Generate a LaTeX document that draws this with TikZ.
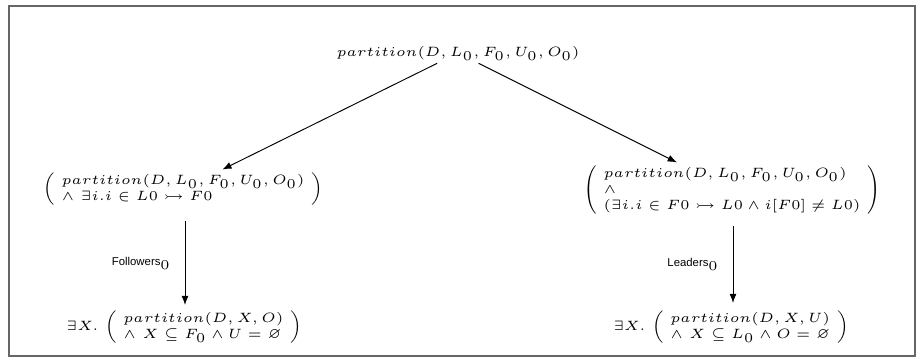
\documentclass[tikz,border=0pt]{standalone}
\usepackage{amsmath,amssymb}
\usepackage{fontspec}
\newfontfamily\lsans{Liberation Sans}
\usetikzlibrary{arrows.meta}
\newcommand{\myarr}[1]{\renewcommand{\arraystretch}{#1}}
\begin{document}
\begin{tikzpicture}[x=0.37pt,y=-0.37pt,
  formula/.style={inner sep=1pt,font=\tiny},
  edge/.style={draw,line width=0.35pt,-{Latex[length=3.4pt,width=2.6pt]}},
  lbl/.style={font=\fontsize{4.2}{5}\lsans,inner sep=1pt}]
\useasboundingbox (0,0) rectangle (917,358);
\draw[gray!80!black,line width=0.6pt] (9,6) rectangle (915,356);
\setlength{\arraycolsep}{2.5pt}
\node[formula] (top) at (458,53) {$partition(D, L_0, F_0, U_0, O_0)$};
\node[formula] (L) at (183,189) {$\left(\myarr{1.0}\begin{array}{l}
  partition(D, L_0, F_0, U_0, O_0)\\
  \wedge\ \exists i . i \in L0 \rightarrowtail F0
  \end{array}\right)$};
\node[formula] (R) at (732,190) {$\left(\myarr{1.0}\begin{array}{l}
  partition(D, L_0, F_0, U_0, O_0)\\
  \wedge\\
  (\exists i . i \in F0 \rightarrowtail L0 \wedge i[F0] \neq L0)
  \end{array}\right)$};
\node[formula] (BL) at (184,327) {$\exists X .\, \left(\myarr{1.0}\begin{array}{l}
  partition(D, X, O)\\
  \wedge\ X \subseteq F_0 \wedge U = \varnothing
  \end{array}\right)$};
\node[formula] (BR) at (731,327) {$\exists X .\, \left(\myarr{1.0}\begin{array}{l}
  partition(D, X, U)\\
  \wedge\ X \subseteq L_0 \wedge O = \varnothing
  \end{array}\right)$};
\draw[edge] (top) -- (L);
\draw[edge] (top) -- (R);
\coordinate (lb) at (185,221);
\coordinate (lt) at (185,305);
\coordinate (rb) at (733,226);
\coordinate (rt) at (733,303);
\draw[edge] (lb) -- node[lbl,left=4pt] {Followers$_0$} (lt);
\draw[edge] (rb) -- node[lbl,left=4pt] {Leaders$_0$} (rt);
\end{tikzpicture}
\end{document}
